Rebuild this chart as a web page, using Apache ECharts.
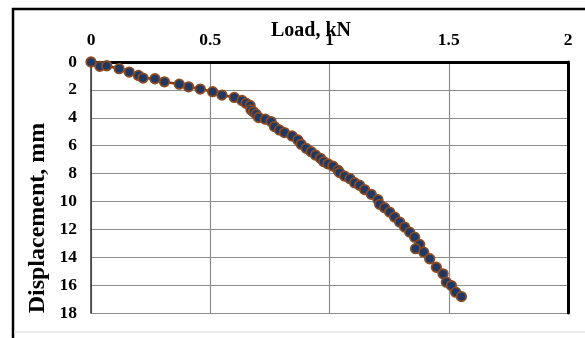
<!DOCTYPE html>
<html>
<head>
<meta charset="utf-8">
<script src="https://cdn.jsdelivr.net/npm/echarts@6/dist/echarts.min.js"></script>
<style>
  html, body { margin: 0; padding: 0; background: #fff; }
  #chart { width: 585px; height: 338px; }
</style>
</head>
<body>
<div id="chart"></div>
<script>
// Load–displacement readings
const loadKN = [
  0, 0.037, 0.066, 0.118, 0.160, 0.199, 0.218, 0.268, 0.308, 0.370,
  0.409, 0.458, 0.510, 0.549, 0.601, 0.633, 0.650, 0.667, 0.671, 0.681,
  0.692, 0.703, 0.731, 0.755, 0.769, 0.790, 0.811, 0.843, 0.867, 0.881,
  0.902, 0.923, 0.941, 0.962, 0.976, 0.993, 1.014, 1.035, 1.042, 1.063,
  1.086, 1.105, 1.126, 1.147, 1.175, 1.203, 1.210, 1.231, 1.252, 1.273,
  1.294, 1.315, 1.336, 1.357, 1.378, 1.361, 1.395, 1.420, 1.448, 1.476,
  1.490, 1.511, 1.529, 1.553
];
const displacementMM = [
  0, 0.31, 0.27, 0.48, 0.72, 0.96, 1.15, 1.20, 1.42, 1.59,
  1.78, 1.94, 2.13, 2.37, 2.54, 2.76, 2.95, 3.12, 3.43, 3.57,
  3.74, 3.98, 4.10, 4.27, 4.63, 4.87, 5.06, 5.30, 5.59, 5.90,
  6.19, 6.43, 6.67, 6.91, 7.15, 7.30, 7.46, 7.75, 7.93, 8.18,
  8.37, 8.66, 8.84, 9.15, 9.49, 9.87, 10.21, 10.45, 10.76, 11.12,
  11.48, 11.84, 12.20, 12.56, 13.08, 13.39, 13.64, 14.11, 14.72, 15.19,
  15.79, 16.03, 16.51, 16.82
];
const xTitle = 'Load, kN';
const yTitle = 'Displacement, mm';

const serif = '"Liberation Serif", "Times New Roman", serif';
const points = loadKN.map((x, i) => [x, displacementMM[i]]);

const chart = echarts.init(document.getElementById('chart'), null, { renderer: 'canvas' });
chart.setOption({
  animation: false,
  backgroundColor: '#fff',
  grid: { left: 91, right: 17, top: 62, bottom: 25, containLabel: false },
  xAxis: [
    {
      type: 'value', position: 'top', min: 0, max: 2, interval: 0.5,
      axisLine: { show: true, lineStyle: { color: '#000', width: 3 } },
      axisTick: { show: false },
      axisLabel: { color: '#000', fontFamily: serif, fontWeight: 'bold', fontSize: 17.5, margin: 13 },
      splitLine: { show: true, lineStyle: { color: '#8c8c8c', width: 1.2 } }
    },
    {
      type: 'value', position: 'bottom', min: 0, max: 2, interval: 0.5,
      axisLine: { show: true, lineStyle: { color: '#000', width: 3 } },
      axisTick: { show: false }, axisLabel: { show: false }, splitLine: { show: false }
    }
  ],
  yAxis: [
    {
      type: 'value', inverse: true, min: 0, max: 18, interval: 2,
      axisLine: { show: true, onZero: false, lineStyle: { color: '#333', width: 1.5 } },
      axisTick: { show: false },
      axisLabel: { color: '#000', fontFamily: serif, fontWeight: 'bold', fontSize: 17.5, margin: 14 },
      splitLine: { show: true, lineStyle: { color: '#8c8c8c', width: 1.2 } }
    },
    {
      type: 'value', inverse: true, position: 'right', min: 0, max: 18, interval: 2,
      axisLine: { show: true, onZero: false, lineStyle: { color: '#000', width: 3 } },
      axisTick: { show: false }, axisLabel: { show: false }, splitLine: { show: false }
    }
  ],
  series: [{
    type: 'line',
    data: points,
    xAxisIndex: 0, yAxisIndex: 0,
    symbol: 'circle',
    symbolSize: 9.5,
    lineStyle: { color: '#843c0c', width: 2.5 },
    itemStyle: { color: '#1f3864', borderColor: '#8a4a22', borderWidth: 1.8 },
    z: 5
  }],
  graphic: [
    { type: 'line', shape: { x1: 12, y1: 9, x2: 585, y2: 9 }, style: { stroke: '#000', lineWidth: 2.5 } },
    { type: 'line', shape: { x1: 13, y1: 8, x2: 13, y2: 338 }, style: { stroke: '#000', lineWidth: 2.5 } },
    { type: 'line', shape: { x1: 14, y1: 332, x2: 585, y2: 332 }, style: { stroke: '#e2e2e2', lineWidth: 1.5 } },
    {
      type: 'text', x: 311, y: 31, z: 10,
      style: { text: xTitle, fill: '#000', font: 'bold 20px ' + serif, textAlign: 'center', textVerticalAlign: 'middle' }
    },
    {
      type: 'text', x: 38, y: 218, rotation: Math.PI / 2, z: 10,
      style: { text: yTitle, fill: '#000', font: 'bold 24px ' + serif, textAlign: 'center', textVerticalAlign: 'middle' }
    }
  ]
});
</script>
</body>
</html>
